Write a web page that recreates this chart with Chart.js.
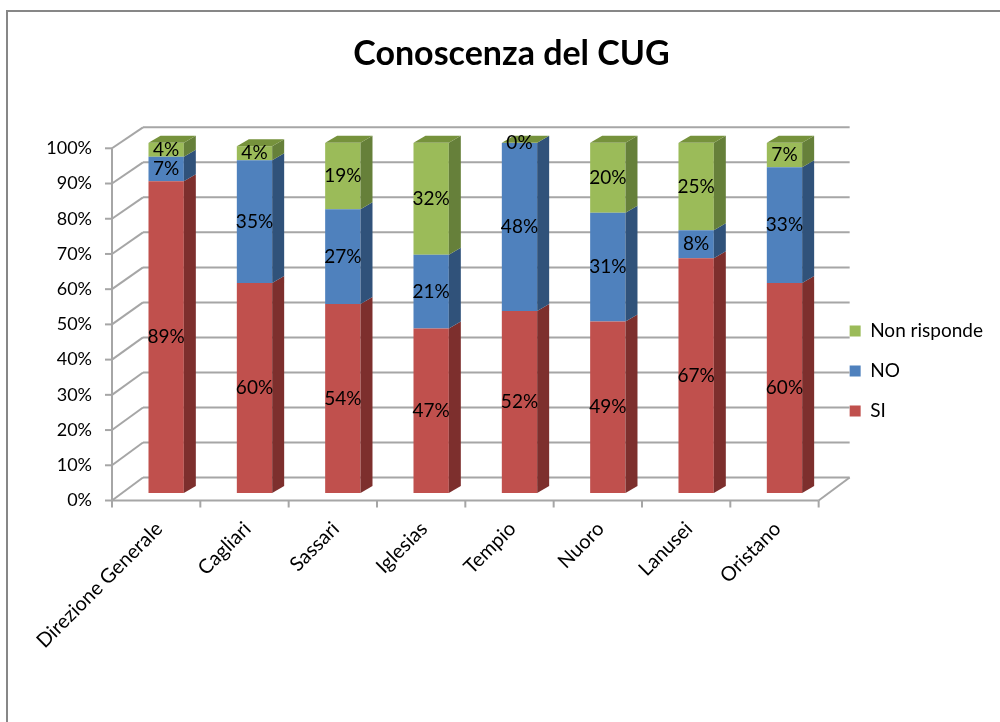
<!DOCTYPE html>
<html>
<head>
<meta charset="utf-8">
<title>Conoscenza del CUG</title>
<script src="https://cdn.jsdelivr.net/npm/chart.js@4.4.1/dist/chart.umd.min.js"></script>
<style>
  html, body { margin: 0; padding: 0; background: #fff; }
  #wrap { width: 1000px; height: 722px; }
</style>
</head>
<body>
<div id="wrap"><canvas id="cug" width="1000" height="722"></canvas></div>
<script>
// dati del grafico
const sedi = ['Direzione Generale', 'Cagliari', 'Sassari', 'Iglesias', 'Tempio', 'Nuoro', 'Lanusei', 'Oristano'];
const si = [89, 60, 54, 47, 52, 49, 67, 60];
const no = [7, 35, 27, 21, 48, 31, 8, 33];
const nonRisponde = [4, 4, 19, 32, 0, 20, 25, 7];
const tickPercentuali = [0, 10, 20, 30, 40, 50, 60, 70, 80, 90, 100];

// colori: faccia frontale, laterale, superiore
const colori = [
  ['#C0504D', '#7D2F2D', '#8E3A38'],
  ['#4F81BD', '#30527A', '#3B6394'],
  ['#9BBB59', '#66803A', '#76923C']
];

// spostamenti per l'effetto 3D (px)
const LATO_DX = 12, LATO_DY = -7;      // spessore delle barre
const FRONTE_DX = -10;                 // piano frontale rispetto alle barre
const FONDO_DX = 21, FONDO_DY = -15.5; // parete di fondo rispetto alle barre
const GRIGIO = '#A6A6A6';

const font = { family: 'Lato', size: 18 };

function poligono(ctx, punti, colore) {
  ctx.beginPath();
  ctx.moveTo(punti[0][0], punti[0][1]);
  for (let i = 1; i < punti.length; i++) ctx.lineTo(punti[i][0], punti[i][1]);
  ctx.closePath();
  ctx.fillStyle = colore;
  ctx.fill();
}

function linea(ctx, x1, y1, x2, y2) {
  ctx.beginPath();
  ctx.moveTo(x1, y1);
  ctx.lineTo(x2, y2);
  ctx.stroke();
}

const prospettiva = {
  id: 'prospettiva',
  beforeDraw(chart) {
    const ctx = chart.ctx;
    ctx.save();
    ctx.fillStyle = '#fff';
    ctx.fillRect(0, 0, chart.width, chart.height);
    // cornice
    ctx.strokeStyle = '#878787';
    ctx.lineWidth = 2;
    ctx.beginPath();
    ctx.moveTo(7, chart.height);
    ctx.lineTo(7, 11);
    ctx.lineTo(chart.width, 11);
    ctx.stroke();
    ctx.restore();
  },
  beforeDatasetsDraw(chart) {
    const ctx = chart.ctx;
    const area = chart.chartArea;
    const y = chart.scales.y;
    const yf = chart.scales.yf;
    const fl = area.left + FRONTE_DX, fr = area.right + FRONTE_DX;
    const bl = area.left + FONDO_DX, br = area.right + FONDO_DX;
    ctx.save();
    ctx.strokeStyle = GRIGIO;
    ctx.lineWidth = 2;
    // griglia sulla parete di fondo e sulla parete sinistra
    tickPercentuali.forEach(v => {
      const yb = y.getPixelForValue(v) + FONDO_DY;
      const yFr = yf.getPixelForValue(v);
      linea(ctx, bl, yb, br, yb);
      linea(ctx, fl, yFr, bl, yb);
      // tacche dell'asse verticale
      linea(ctx, fl - 7, yFr, fl, yFr);
    });
    // pavimento
    const y0 = yf.getPixelForValue(0);
    const yb0 = y.getPixelForValue(0) + FONDO_DY;
    linea(ctx, fl, y0, fr, y0);
    linea(ctx, fr, y0, br, yb0);
    // asse verticale frontale
    linea(ctx, fl, yf.getPixelForValue(100), fl, y0);
    // tacche delle categorie
    const passo = (area.right - area.left) / sedi.length;
    for (let k = 0; k <= sedi.length; k++) {
      const x = fl + k * passo;
      linea(ctx, x, y0, x, y0 + 7);
    }
    ctx.restore();
  },
  afterDatasetsDraw(chart) {
    const ctx = chart.ctx;
    const metas = chart.data.datasets.map((d, i) => chart.getDatasetMeta(i));
    ctx.save();
    sedi.forEach((s, j) => {
      metas.forEach((meta, i) => {
        const bar = meta.data[j];
        const destra = bar.x + bar.width / 2;
        const alto = Math.min(bar.y, bar.base), basso = Math.max(bar.y, bar.base);
        if (basso - alto > 0) {
          poligono(ctx, [[destra, basso], [destra, alto], [destra + LATO_DX, alto + LATO_DY], [destra + LATO_DX, basso + LATO_DY]], colori[i][1]);
        }
      });
      // faccia superiore della pila
      const cima = metas[metas.length - 1].data[j];
      const sx = cima.x - cima.width / 2, dx = cima.x + cima.width / 2;
      poligono(ctx, [[sx, cima.y], [sx + LATO_DX, cima.y + LATO_DY], [dx + LATO_DX, cima.y + LATO_DY], [dx, cima.y]], colori[metas.length - 1][2]);
    });
    // etichette dei valori
    ctx.font = '19px Lato';
    ctx.fillStyle = '#000';
    ctx.textAlign = 'center';
    ctx.textBaseline = 'middle';
    metas.forEach((meta, i) => {
      const valori = chart.data.datasets[i].data;
      meta.data.forEach((bar, j) => {
        ctx.fillText(valori[j] + '%', bar.x, (bar.y + bar.base) / 2);
      });
    });
    ctx.restore();
  }
};

const ctx = document.getElementById('cug').getContext('2d');

new Chart(ctx, {
  type: 'bar',
  data: {
    labels: sedi,
    datasets: [
      { label: 'SI', data: si, backgroundColor: colori[0][0], borderWidth: 0 },
      { label: 'NO', data: no, backgroundColor: colori[1][0], borderWidth: 0 },
      { label: 'Non risponde', data: nonRisponde, backgroundColor: colori[2][0], borderWidth: 0 }
    ]
  },
  options: {
    responsive: false,
    animation: false,
    layout: { padding: { left: 30, right: 7, top: 20, bottom: 0 } },
    datasets: { bar: { barPercentage: 0.4, categoryPercentage: 1.0 } },
    scales: {
      x: {
        stacked: true,
        grid: { display: false, drawTicks: false },
        border: { display: false },
        afterFit(scale) { scale.height = 229; },
        ticks: { autoSkip: false, minRotation: 45, maxRotation: 45, padding: 24, labelOffset: -7, font: { family: 'Lato', size: 20 }, color: '#000' }
      },
      y: {
        stacked: true,
        min: 0,
        max: 100,
        display: false
      },
      yf: {
        position: 'left',
        min: 2.13,
        max: 101.56,
        afterBuildTicks(scale) { scale.ticks = tickPercentuali.map(v => ({ value: v })); },
        afterFit(scale) { scale.width = 92; },
        grid: { display: false, drawTicks: false },
        border: { display: false },
        ticks: { padding: 30, font: font, color: '#000', callback: v => v + '%' }
      }
    },
    plugins: {
      title: {
        display: true,
        text: 'Conoscenza del CUG',
        color: '#000',
        font: { family: 'Lato', size: 34, weight: 'bold' },
        padding: { top: 14, bottom: 68 }
      },
      legend: {
        position: 'right',
        reverse: true,
        labels: { boxWidth: 11, boxHeight: 11, padding: 21, color: '#000', font: { family: 'Lato', size: 19 } }
      },
      tooltip: { enabled: false }
    }
  },
  plugins: [prospettiva]
});
</script>
</body>
</html>
